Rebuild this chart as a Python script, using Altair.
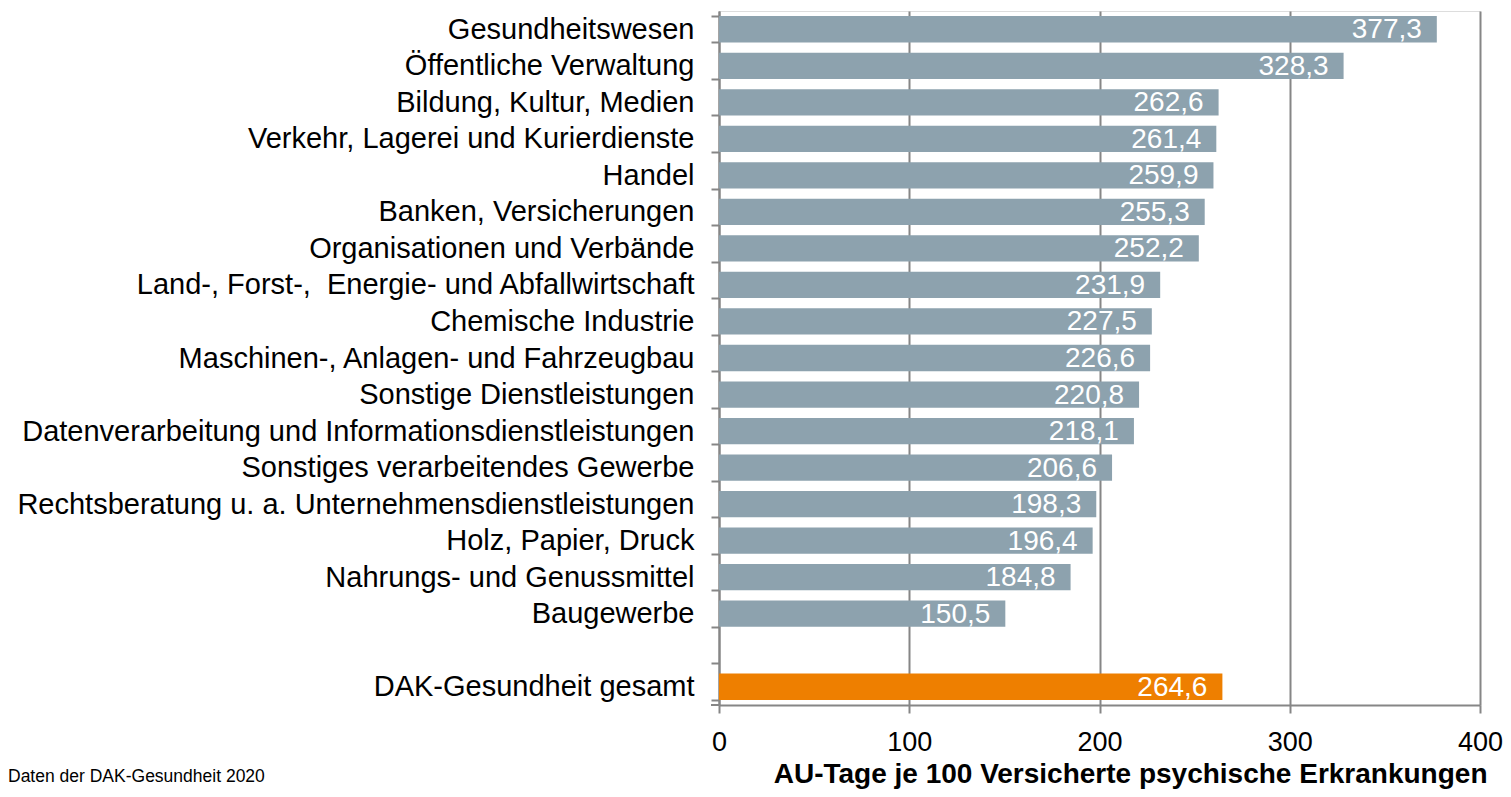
import altair as alt
import pandas as pd

categories = [
    "Gesundheitswesen",
    "Öffentliche Verwaltung",
    "Bildung, Kultur, Medien",
    "Verkehr, Lagerei und Kurierdienste",
    "Handel",
    "Banken, Versicherungen",
    "Organisationen und Verbände",
    "Land-, Forst-,\u00a0 Energie- und Abfallwirtschaft",
    "Chemische Industrie",
    "Maschinen-, Anlagen- und Fahrzeugbau",
    "Sonstige Dienstleistungen",
    "Datenverarbeitung und Informationsdienstleistungen",
    "Sonstiges verarbeitendes Gewerbe",
    "Rechtsberatung u. a. Unternehmensdienstleistungen",
    "Holz, Papier, Druck",
    "Nahrungs- und Genussmittel",
    "Baugewerbe",
]
values = [377.3, 328.3, 262.6, 261.4, 259.9, 255.3, 252.2, 231.9, 227.5,
          226.6, 220.8, 218.1, 206.6, 198.3, 196.4, 184.8, 150.5]
total_label = "DAK-Gesundheit gesamt"
total_value = 264.6
spacer = " "
groups = ["Branche"] * len(categories) + ["Gesamt"]

domain = categories + [spacer, total_label]
df = pd.DataFrame({
    "Kategorie": categories + [total_label],
    "Wert": values + [total_value],
    "Gruppe": groups,
})

FONT = "Liberation Sans"
W, H = 761, 694
LEFT = 711

y_enc = alt.Y(
    "Kategorie:N",
    sort=domain,
    scale=alt.Scale(domain=domain, paddingInner=0.28, paddingOuter=0.14),
    axis=alt.Axis(
        title=None, labelFont=FONT, labelFontSize=29, labelColor="#000000",
        labelPadding=17, tickSize=8, tickColor="#868686", tickWidth=2,
        tickBand="extent", domainColor="#868686", domainWidth=2,
        labelLimit=800, grid=False,
    ),
)

bars = alt.Chart(df).mark_bar().encode(
    x=alt.X(
        "Wert:Q",
        scale=alt.Scale(domain=[0, 400], nice=False),
        axis=alt.Axis(
            values=[0, 100, 200, 300, 400], title="AU-Tage je 100 Versicherte psychische Erkrankungen",
            titleFont=FONT, titleFontSize=28, titleFontWeight="bold", titleColor="#000000",
            titleAlign="right", titleX=768, titleY=77, titleBaseline="alphabetic",
            labelFont=FONT, labelFontSize=27, labelColor="#000000", labelPadding=16,
            labelFlush=False,
            tickSize=8, tickColor="#868686", tickWidth=2,
            domainColor="#868686", domainWidth=2,
            grid=True, gridColor="#868686", gridWidth=2,
        ),
    ),
    y=y_enc,
    color=alt.Color(
        "Gruppe:N",
        scale=alt.Scale(domain=["Branche", "Gesamt"], range=["#8DA2AE", "#EE7F00"]),
        legend=None,
    ),
)

labels = alt.Chart(df).transform_calculate(
    txt="replace(format(datum.Wert, '.1f'), '.', ',')"
).mark_text(
    align="right", baseline="middle", dx=-15, dy=1, font=FONT, fontSize=28, color="#FFFFFF"
).encode(
    x="Wert:Q",
    y=alt.Y("Kategorie:N", sort=domain, scale=alt.Scale(domain=domain)),
    text="txt:N",
)

bottom_tick = alt.Chart(df).mark_rule(color="#868686", strokeWidth=2).encode(
    x=alt.value(-8), x2=alt.value(0), y=alt.value(H)
).transform_filter("datum.Gruppe == 'Gesamt'")

source = alt.Chart(df).mark_text(
    align="left", baseline="alphabetic", font=FONT, fontSize=17.5, color="#000000",
    text="Daten der DAK-Gesundheit 2020",
).encode(
    x=alt.value(-LEFT), y=alt.value(771)
).transform_filter("datum.Gruppe == 'Gesamt'")

chart = alt.layer(bars, labels, bottom_tick, source).properties(
    width=W, height=H,
    autosize=alt.AutoSizeParams(type="none"),
    padding={"left": LEFT, "top": 3, "right": 23, "bottom": 84},
).configure_view(stroke=None).configure(background="#ffffff")

chart.save("out.html", embed_options={"renderer": "svg", "actions": False})
